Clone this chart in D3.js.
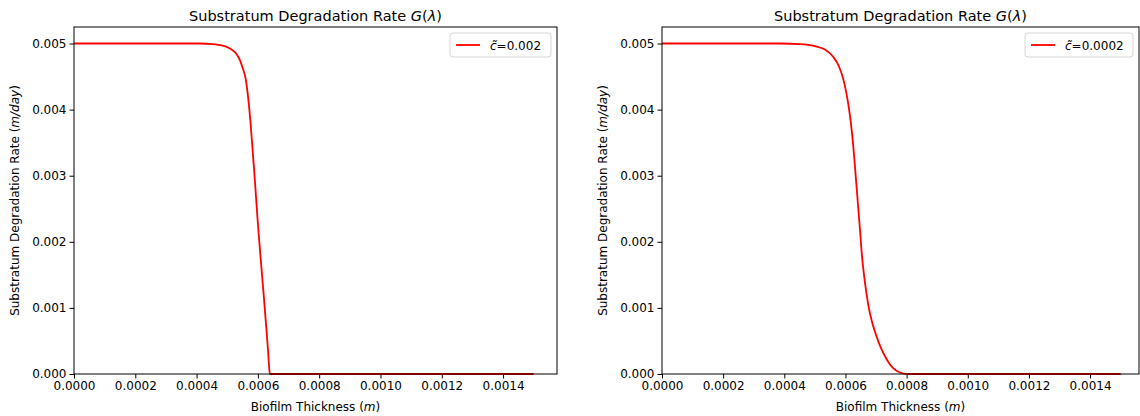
<!DOCTYPE html>
<html>
<head>
<meta charset="utf-8">
<script src="https://cdn.jsdelivr.net/npm/d3@7"></script>
<style>
    body { margin: 0; background: #fff; }
    svg { font-family: 'DejaVu Sans', sans-serif; }
</style>
</head>
<body>
<svg id="chart" width="1140" height="416"></svg>
<script>
// thickness (m) and rate (m/day)
var leftThickness = [0, 0.0002, 0.000411, 0.00045, 0.000476, 0.000509, 0.000529, 0.000542, 0.000551, 0.00056,
    0.000566, 0.000571, 0.000576, 0.000581, 0.000591, 0.0006, 0.00061, 0.00062, 0.000628, 0.000633,
    0.000636, 0.000639, 0.0008, 0.0011, 0.0015];
var leftRate = [0.005, 0.005, 0.005, 0.004992, 0.004977, 0.004924, 0.004848, 0.004742, 0.004621, 0.00447,
    0.004273, 0.004061, 0.003803, 0.0035, 0.002879, 0.002273, 0.001697, 0.001136, 0.000667, 0.000364,
    0.000152, 0, 0, 0, 0];

var rightThickness = [0, 0.0002, 0.000385, 0.000451, 0.0005, 0.000533, 0.000559, 0.000579, 0.000595, 0.000608,
    0.000618, 0.000626, 0.000634, 0.000641, 0.000648, 0.000654, 0.000661, 0.000669, 0.000677, 0.000687,
    0.0007, 0.000716, 0.000736, 0.000755, 0.000778, 0.000801, 0.001, 0.0015];
var rightRate = [0.005, 0.005, 0.005, 0.004992, 0.004962, 0.004909, 0.004803, 0.004652, 0.004424, 0.004121,
    0.003788, 0.003424, 0.00297, 0.002561, 0.002152, 0.001788, 0.001485, 0.001212, 0.000985, 0.000788,
    0.000591, 0.000394, 0.000212, 0.000091, 0.000023, 0, 0, 0];

var xTicks = [0, 0.0002, 0.0004, 0.0006, 0.0008, 0.0010, 0.0012, 0.0014];
var yTicks = [0, 0.001, 0.002, 0.003, 0.004, 0.005];
var legendLabels = ['=0.002', '=0.0002'];

var svg = d3.select('#chart');

function drawPanel(opts) {
    var x = d3.scaleLinear().domain([0, opts.xMax]).range([opts.left, opts.right]);
    var y = d3.scaleLinear().domain([0, 0.00525]).range([374, 27]);
    var g = svg.append('g');

    // axes
    var xAxis = d3.axisBottom(x).tickValues(xTicks).tickSize(4.5).tickPadding(3)
        .tickFormat(d3.format('.4f'));
    var gx = g.append('g').attr('transform', 'translate(0,374)').call(xAxis);
    var yAxis = d3.axisLeft(y).tickValues(yTicks).tickSize(4.5).tickPadding(3)
        .tickFormat(d3.format('.3f'));
    var gy = g.append('g').attr('transform', 'translate(' + opts.left + ',0)').call(yAxis);
    [gx, gy].forEach(function(a) {
        a.select('.domain').remove();
        a.selectAll('text').style('font-size', '12px').style('font-family', 'DejaVu Sans').attr('fill', '#000');
        a.selectAll('line').attr('stroke', '#000').attr('stroke-width', 1);
    });

    var line = d3.line()
        .x(function(d) { return x(d[0]); })
        .y(function(d) { return y(d[1]); })
        .curve(d3.curveMonotoneX);
    var pts = opts.xs.map(function(v, i) { return [v, opts.ys[i]]; });
    g.append('path')
        .datum(pts)
        .attr('d', line)
        .attr('fill', 'none')
        .attr('stroke', '#ff0000')
        .attr('stroke-width', 1.8);

    // frame
    g.append('rect')
        .attr('x', opts.left).attr('y', 27)
        .attr('width', opts.right - opts.left).attr('height', 374 - 27)
        .attr('fill', 'none').attr('stroke', '#000').attr('stroke-width', 1);

    // title
    var cx = (opts.left + opts.right) / 2;
    var t = g.append('text').attr('x', cx).attr('y', 21).attr('text-anchor', 'middle')
        .style('font-size', '14.5px');
    t.append('tspan').text('Substratum Degradation Rate ');
    t.append('tspan').style('font-style', 'italic').text('G');
    t.append('tspan').text('(');
    t.append('tspan').style('font-style', 'italic').text('λ');
    t.append('tspan').text(')');

    // x label
    var xl = g.append('text').attr('x', cx).attr('y', 411).attr('text-anchor', 'middle')
        .style('font-size', '12px');
    xl.append('tspan').text('Biofilm Thickness (');
    xl.append('tspan').style('font-style', 'italic').text('m');
    xl.append('tspan').text(')');

    // y label
    var yl = g.append('text')
        .attr('transform', 'translate(' + (opts.left - 55) + ',' + ((27 + 374) / 2) + ') rotate(-90)')
        .attr('text-anchor', 'middle')
        .style('font-size', '12px');
    yl.append('tspan').text('Substratum Degradation Rate (');
    yl.append('tspan').style('font-style', 'italic').text('m/day');
    yl.append('tspan').text(')');

    // legend
    var lw = opts.legendWidth;
    var lx = opts.right - 6 - lw;
    var lg = g.append('g').attr('transform', 'translate(' + lx + ',33)');
    lg.append('rect').attr('width', lw).attr('height', 24).attr('rx', 3)
        .attr('fill', '#fff').attr('fill-opacity', 0.8)
        .attr('stroke', '#d6d6d6').attr('stroke-width', 1);
    lg.append('line').attr('x1', 6).attr('x2', 30).attr('y1', 12).attr('y2', 12)
        .attr('stroke', '#ff0000').attr('stroke-width', 1.8);
    var lt = lg.append('text').attr('x', 40).attr('y', 16.5).style('font-size', '12px');
    lt.append('tspan').style('font-style', 'italic').text('c\u0303');
    lt.append('tspan').text(opts.label);
}

drawPanel({ left: 74, right: 557, xMax: 0.001576, xs: leftThickness, ys: leftRate,
    label: legendLabels[0], legendWidth: 101 });
drawPanel({ left: 662, right: 1139, xMax: 0.00156, xs: rightThickness, ys: rightRate,
    label: legendLabels[1], legendWidth: 108 });
</script>
</body>
</html>
